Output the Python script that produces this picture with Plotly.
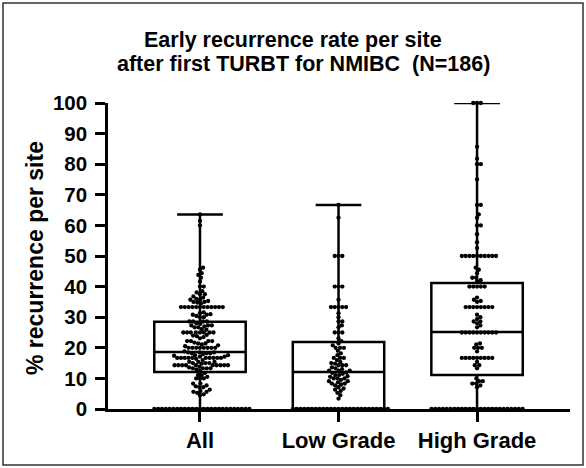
import math

import plotly.graph_objects as go


categories = ["All", "Low Grade", "High Grade"]

all_values = [
    63.6, 61.5, 60.0, 46.2, 45.5, 44.4, 43.8, 42.9,
    41.7, 40.0, 40.0, 38.5, 38.1, 37.5, 37.5, 36.8,
    36.4, 36.0, 35.7, 35.7, 35.3, 35.0, 35.0, 34.8, 34.5,
    33.3, 33.3, 33.3, 33.3, 33.3, 33.3, 33.3, 33.3, 33.3, 33.3, 33.3, 33.3,
    31.6, 31.3, 31.0, 30.8, 30.8, 30.4, 30.0, 30.0,
    28.6, 28.6, 28.6, 28.6, 28.0, 27.8, 27.3, 27.3, 27.3, 27.0, 26.7, 26.7,
    26.1, 25.9, 25.0, 25.0, 25.0, 25.0, 25.0, 25.0, 25.0, 25.0, 24.2, 24.0, 23.8, 23.5, 23.1,
    22.2, 22.2, 22.2, 22.2, 21.7, 21.4, 21.4, 21.1, 20.8, 20.5,
    20.0, 20.0, 20.0, 20.0, 20.0, 20.0, 20.0, 20.0,
    18.8, 18.5, 18.5, 18.5, 18.2, 18.2, 18.2, 17.9, 17.6, 17.6, 17.4, 17.1, 17.1,
    16.7, 16.7, 16.7, 16.7, 16.7, 16.7, 16.7, 16.7, 16.7, 16.7, 16.4, 16.0,
    15.4, 15.4, 15.4, 15.0, 15.0, 15.0, 14.8,
    14.3, 14.3, 14.3, 14.3, 14.3, 14.3, 14.3, 14.3, 14.3, 14.3,
    13.8, 13.6, 13.3, 13.3, 13.3, 13.3, 12.9, 12.5,
    11.8, 11.1, 11.1, 10.5, 10.0, 10.0, 10.0,
    8.3, 8.3, 7.7, 7.4, 7.1, 7.1,
    6.3, 5.9, 5.6, 5.6, 5.3, 4.8, 4.5,
    0, 0, 0, 0, 0, 0, 0, 0, 0, 0, 0, 0, 0,
    0, 0, 0, 0, 0, 0, 0, 0, 0, 0, 0, 0, 0,
]

low_grade_values = [
    66.7, 62.5, 50.0, 50.0, 50.0, 40.0, 40.0, 40.0, 35.7,
    33.3, 33.3, 33.3, 33.3, 33.3,
    31.3, 30.0, 28.6, 28.6, 27.3, 26.7, 25.0, 25.0, 25.0, 23.1, 22.2,
    21.4, 20.8, 20.0, 20.0, 20.0, 19.0, 18.2, 17.6, 16.7, 16.7, 16.7, 16.0, 15.4,
    15.0, 14.8, 14.3, 14.3, 14.3, 13.6, 13.3, 13.0, 12.5, 12.5, 12.5, 12.0,
    11.8, 11.5, 11.1, 11.1, 10.7, 10.5, 10.0, 10.0, 10.0, 9.5, 9.1, 9.1,
    8.7, 8.3, 8.3, 8.0, 7.7, 7.1, 6.7, 6.3, 5.9, 5.3, 4.5, 3.4,
    0, 0, 0, 0, 0, 0, 0, 0, 0, 0, 0, 0, 0,
    0, 0, 0, 0, 0, 0, 0, 0, 0, 0, 0, 0, 0,
]

high_grade_values = [
    100, 100, 100, 85.7, 81.8, 80.0, 80.0, 75.0, 66.7, 66.7, 63.6, 62.5,
    60.0, 60.0, 57.1, 54.5, 52.6,
    50.0, 50.0, 50.0, 50.0, 50.0, 50.0, 50.0, 50.0, 50.0, 50.0,
    46.2, 45.5, 44.4, 42.9, 42.9, 42.1, 41.7,
    40.0, 40.0, 40.0, 40.0, 40.0, 36.4, 35.7, 35.3, 35.0,
    33.3, 33.3, 33.3, 33.3, 33.3, 33.3, 33.3, 33.3,
    30.8, 30.0, 29.4, 28.6, 28.6, 28.0, 27.3, 26.7,
    25.0, 25.0, 25.0, 25.0, 25.0, 25.0, 25.0, 25.0, 25.0, 25.0,
    21.4, 21.1, 20.0, 20.0, 20.0, 18.8,
    16.7, 16.7, 16.7, 16.7, 16.7, 16.7, 16.7, 16.7, 16.7,
    15.4, 14.3, 14.3, 13.3,
    10.0, 9.1, 9.1, 8.3, 8.3, 7.7, 7.1,
    0, 0, 0, 0, 0, 0, 0, 0, 0, 0, 0, 0, 0,
    0, 0, 0, 0, 0, 0, 0, 0, 0, 0, 0, 0,
]

# box summary as drawn (min to max whiskers)
box_min = [0, 0, 0]
box_q1 = [12.1, 0.0, 11.1]
box_median = [18.6, 12.1, 25.2]
box_q3 = [28.5, 21.9, 41.2]
box_max = [63.6, 66.7, 100]

W, H = 586, 468
M = dict(l=108, r=16, t=103, b=59)
X_RANGE = [-0.664, 2.671]
Y_RANGE = [0, 100]
FONT = "Liberation Sans, Arial, sans-serif"

plot_w = W - M["l"] - M["r"]
plot_h = H - M["t"] - M["b"]
x_px = plot_w / (X_RANGE[1] - X_RANGE[0])
y_px = plot_h / (Y_RANGE[1] - Y_RANGE[0])
DOT = 3.8


def swarm_offsets(values, dot):
    placed = []
    offsets = [0.0] * len(values)
    for i in sorted(range(len(values)), key=lambda k: values[k]):
        y = values[i] * y_px
        near = [(px, py) for px, py in placed if abs(py - y) < dot]
        cands = [0.0]
        for px, py in near:
            dx = math.sqrt(dot ** 2 - (py - y) ** 2)
            cands += [px + dx, px - dx]
        cands.sort(key=abs)
        pick = cands[-1]
        for c in cands:
            if all((c - px) ** 2 + (y - py) ** 2 >= dot ** 2 - 1e-6 for px, py in near):
                pick = c
                break
        placed.append((pick, y))
        offsets[i] = pick / x_px
    return offsets


def paper_x(px):
    return (px - M["l"]) / plot_w


def paper_y(py):
    return (H - M["b"] - py) / plot_h


fig = go.Figure()

for i, name in enumerate(categories):
    fig.add_trace(
        go.Box(
            x=[i],
            q1=[box_q1[i]],
            median=[box_median[i]],
            q3=[box_q3[i]],
            lowerfence=[box_min[i]],
            upperfence=[box_max[i]],
            width=0.66,
            whiskerwidth=0.5,
            boxpoints=False,
            fillcolor="rgba(0,0,0,0)",
            line={"color": "black", "width": 2.5},
            hoverinfo="skip",
            showlegend=False,
        )
    )

for i, vals in enumerate([all_values, low_grade_values, high_grade_values]):
    offs = swarm_offsets(vals, DOT)
    fig.add_trace(
        go.Scatter(
            x=[i + o for o in offs],
            y=vals,
            mode="markers",
            marker={"size": 4.3, "color": "black", "line": {"width": 0}},
            cliponaxis=False,
            name=categories[i],
            showlegend=False,
        )
    )

fig.update_layout(
    width=W,
    height=H,
    margin=M,
    paper_bgcolor="white",
    plot_bgcolor="white",
    font={"family": FONT, "color": "black"},
    showlegend=False,
    xaxis={
        "range": X_RANGE,
        "tickvals": [0, 1, 2],
        "ticktext": categories,
        "showgrid": False,
        "zeroline": False,
        "showline": True,
        "linecolor": "black",
        "linewidth": 2.5,
        "ticks": "outside",
        "ticklen": 10,
        "tickwidth": 2.5,
        "tickcolor": "black",
        "tickfont": {"size": 22, "family": FONT, "weight": "bold"},
    },
    yaxis={
        "range": Y_RANGE,
        "tickvals": list(range(0, 101, 10)),
        "showgrid": False,
        "zeroline": False,
        "showline": True,
        "linecolor": "black",
        "linewidth": 2.5,
        "ticks": "outside",
        "ticklen": 10,
        "tickwidth": 2.5,
        "tickcolor": "black",
        "ticklabelstandoff": 4,
        "tickfont": {"size": 20.5, "family": FONT, "weight": "bold"},
    },
    annotations=[
        dict(
            text="Early recurrence rate per site",
            xref="paper", yref="paper",
            x=paper_x(293), y=paper_y(40),
            xanchor="center", yanchor="middle",
            showarrow=False,
            font={"size": 21.5, "family": FONT, "weight": "bold"},
        ),
        dict(
            text="after first TURBT for NMIBC\u00a0 (N=186)",
            xref="paper", yref="paper",
            x=paper_x(303), y=paper_y(64),
            xanchor="center", yanchor="middle",
            showarrow=False,
            font={"size": 21.5, "family": FONT, "weight": "bold"},
        ),
        dict(
            text="% recurrence per site",
            xref="paper", yref="paper",
            x=paper_x(35), y=paper_y(258),
            xanchor="center", yanchor="middle",
            textangle=-90,
            showarrow=False,
            font={"size": 23, "family": FONT, "weight": "bold"},
        ),
    ],
    shapes=[
        dict(
            type="rect",
            xref="paper", yref="paper",
            x0=paper_x(3), x1=paper_x(583),
            y0=paper_y(465), y1=paper_y(3),
            line={"color": "#333333", "width": 1.5},
        )
    ],
)

fig.write_html(
    "out.html",
    config={"displayModeBar": False},
    post_script="document.body.style.margin='0';document.body.style.overflow='hidden';",
)
